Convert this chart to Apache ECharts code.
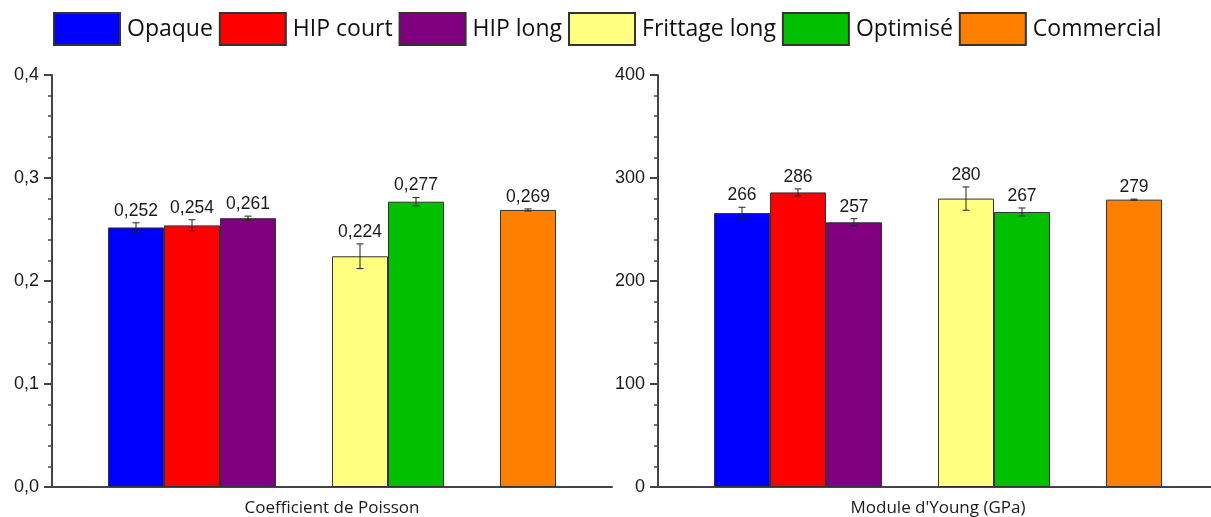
<!DOCTYPE html>
<html>
<head>
<meta charset="utf-8">
<script src="https://cdn.jsdelivr.net/npm/echarts@6/dist/echarts.min.js"></script>
<style>
html,body{margin:0;padding:0;background:#fff;}
#chart{width:1211px;height:517px;}
</style>
</head>
<body>
<div id="chart"></div>
<script>
const categories = ['Opaque', 'HIP court', 'HIP long', 'Frittage long', 'Optimisé', 'Commercial'];
const xSlots = ['', 'Opaque', 'HIP court', 'HIP long', '', 'Frittage long', 'Optimisé', '', 'Commercial', ''];
const poisson = [0.252, 0.254, 0.261, 0.224, 0.277, 0.269];
const poissonErr = [0.0045, 0.0055, 0.002, 0.012, 0.004, 0.001];
const young = [266, 286, 257, 280, 267, 279];
const youngErr = [5.6, 3.4, 3.5, 11.3, 3.9, 0.5];
const poissonTicks = ['0,0', '0,1', '0,2', '0,3', '0,4'];
const youngTicks = ['0', '100', '200', '300', '400'];
const colors = ['#0000ff', '#ff0000', '#800080', '#ffff80', '#00c000', '#ff8000'];

const chart = echarts.init(document.getElementById('chart'), null, {renderer: 'canvas'});

function fmtPoisson(v) { return v.toFixed(3).replace('.', ','); }
function fmtYoung(v) { return String(Math.round(v)); }

const series = [];
[[poisson, 0, 'L'], [young, 1, 'R']].forEach(([vals, gi, st]) => {
  categories.forEach((name, i) => {
    const slot = xSlots.indexOf(name);
    const data = xSlots.map((_, k) => (k === slot ? vals[i] : null));
    series.push({
      type: 'bar', name: name, xAxisIndex: gi, yAxisIndex: gi, stack: st,
      data: data, barWidth: '100%',
      itemStyle: {color: colors[i], borderColor: '#333', borderWidth: 1},
      emphasis: {disabled: true}
    });
  });
});

function errSeries(vals, errs, gi, fmt) {
  const data = categories.map((name, i) => [xSlots.indexOf(name), vals[i], errs[i], i]);
  return {
    type: 'custom', xAxisIndex: gi, yAxisIndex: gi, z: 10, silent: true,
    data: data,
    encode: {x: 0, y: 1},
    renderItem: function (params, api) {
      const x = api.value(0), v = api.value(1), e = api.value(2), idx = api.value(3);
      const top = api.coord([x, v + e]);
      const bot = api.coord([x, v - e]);
      const cap = 3.5;
      const st = {stroke: '#222', lineWidth: 1};
      return {
        type: 'group',
        children: [
          {type: 'line', shape: {x1: top[0], y1: top[1], x2: bot[0], y2: bot[1]}, style: st},
          {type: 'line', shape: {x1: top[0] - cap, y1: top[1], x2: top[0] + cap, y2: top[1]}, style: st},
          {type: 'line', shape: {x1: bot[0] - cap, y1: bot[1], x2: bot[0] + cap, y2: bot[1]}, style: st},
          {type: 'text', x: top[0], y: top[1] - 3,
            style: {text: fmt(vals[idx]), align: 'center', verticalAlign: 'bottom',
              fontSize: 17.5, fontFamily: 'Liberation Sans', fill: '#1a1a1a'}}
        ]
      };
    }
  };
}
series.push(errSeries(poisson, poissonErr, 0, fmtPoisson));
series.push(errSeries(young, youngErr, 1, fmtYoung));

function xAxis(gi, name) {
  return {
    type: 'category', gridIndex: gi, data: xSlots,
    axisLine: {show: true, lineStyle: {color: '#444', width: 2}},
    axisTick: {show: false}, axisLabel: {show: false},
    name: name, nameLocation: 'middle', nameGap: 13,
    nameTextStyle: {fontFamily: 'Open Sans', fontSize: 17, color: '#1a1a1a'}
  };
}
function yAxis(gi, max, ticks) {
  return {
    type: 'value', gridIndex: gi, min: 0, max: max, interval: max / 4,
    splitLine: {show: false},
    axisLine: {show: true, lineStyle: {color: '#444', width: 2}},
    axisTick: {show: true, inside: false, length: 8, lineStyle: {color: '#444', width: 2}},
    minorTick: {show: true, splitNumber: 5, length: 4, lineStyle: {color: '#444', width: 1.5}},
    axisLabel: {
      margin: 13, fontFamily: 'Liberation Sans', fontSize: 18, color: '#1a1a1a',
      formatter: function (v) { return ticks[Math.round(v / (max / 4))]; }
    }
  };
}

chart.setOption({
  animation: false,
  legend: {
    data: categories, left: 53, top: 12, padding: 0, itemWidth: 66, itemHeight: 32, itemGap: 6,
    icon: 'rect', selectedMode: false,
    textStyle: {fontFamily: 'Open Sans', fontSize: 23, color: '#111', padding: [0, 0, 0, 2]}
  },
  grid: [
    {left: 52, top: 75, width: 560, height: 412, outerBoundsMode: 'none', containLabel: false},
    {left: 658, top: 75, width: 560, height: 412, outerBoundsMode: 'none', containLabel: false}
  ],
  xAxis: [xAxis(0, 'Coefficient de Poisson'), xAxis(1, "Module d'Young (GPa)")],
  yAxis: [yAxis(0, 0.4, poissonTicks), yAxis(1, 400, youngTicks)],
  series: series
});
</script>
</body>
</html>
